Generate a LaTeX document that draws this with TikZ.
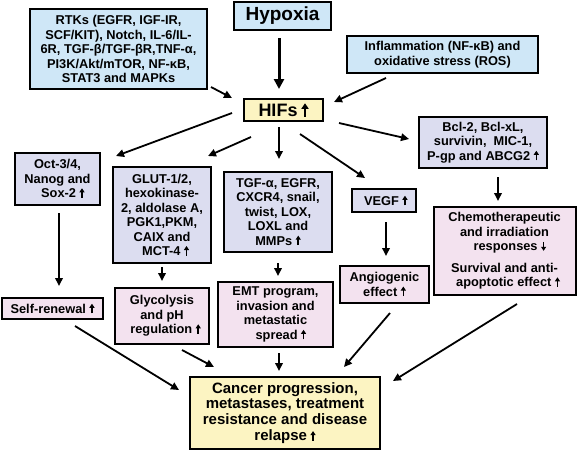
\documentclass[tikz,border=0pt]{standalone}
\usepackage{fontspec}
\setmainfont{Liberation Sans}
\usetikzlibrary{arrows.meta,calc}
\definecolor{cblue}{HTML}{CFE7F7}
\definecolor{clav}{HTML}{DCDDF0}
\definecolor{cpink}{HTML}{F3E2EF}
\definecolor{cyel}{HTML}{FCF4C2}
\newcommand{\upar}{\hspace{3.5pt}\tikz[baseline=0pt]{\draw[line width=1.5pt,-{Triangle[length=4pt,width=5pt]}] (0pt,0pt) -- (0pt,9.5pt);}}
\newcommand{\dnar}{\hspace{3.5pt}\tikz[baseline=0pt]{\draw[line width=1.5pt,-{Triangle[length=4pt,width=5pt]}] (0pt,9pt) -- (0pt,0pt);}}
\newcommand{\bigupar}{\hspace{4pt}\tikz[baseline=0pt]{\draw[line width=2.2pt,-{Triangle[length=5.5pt,width=7pt]}] (0pt,0pt) -- (0pt,13.5pt);}}
\begin{document}
\begin{tikzpicture}[x=1pt,y=-1pt,
  box/.style={draw=black,line width=2pt,align=center,inner sep=0pt,
    font=\bfseries\fontsize{12.8}{14.5}\selectfont},
  arr/.style={-{Triangle[length=8pt,width=7.5pt]},line width=1.8pt},
  bigarr/.style={-{Triangle[length=10pt,width=10pt]},line width=3pt},
]
\useasboundingbox (0,0) rectangle (577,451);
\fill[white] (0,0) rectangle (577,451);

% top row
\node[box,fill=cblue,minimum width=97pt,minimum height=28.5pt,
  font=\bfseries\fontsize{19}{20}\selectfont] (hyp) at (282.5,15.75) {Hypoxia};
\node[box,fill=cblue,minimum width=177pt,minimum height=80pt] (rtk) at (118.5,49)
  {RTKs (EGFR, IGF-IR,\\SCF/KIT), Notch, IL-6/IL-\\6R, TGF-β/TGF-βR,TNF-α,\\PI3K/Akt/mTOR, NF-κB,\\STAT3 and MAPKs};
\node[box,fill=cblue,minimum width=191pt,minimum height=37pt] (inf) at (442.5,54.5)
  {Inflammation (NF-κB) and\\oxidative stress (ROS)};

% HIFs
\node[box,fill=cyel,minimum width=79pt,minimum height=22pt,
  font=\bfseries\fontsize{18}{20}\selectfont] (hif) at (283.5,110) {HIFs\bigupar};

% second row
\node[box,fill=clav,minimum width=128pt,minimum height=51pt] (bcl) at (483,142.5)
  {Bcl-2, Bcl-xL,\\survivin,\ \ MIC-1,\\P-gp and ABCG2\upar};
\node[box,fill=clav,minimum width=85pt,minimum height=52pt] (oct) at (57.5,179)
  {Oct-3/4,\\Nanog and\\\ \ \ Sox-2\upar};
\node[box,fill=clav,minimum width=98pt,minimum height=96pt] (glut) at (162,215)
  {GLUT-1/2,\\hexokinase-\\2, aldolase A,\\PGK1,PKM,\\CAIX and\\\ \ MCT-4\upar};
\node[box,fill=clav,minimum width=108pt,minimum height=80pt] (tgf) at (278,212)
  {TGF-α, EGFR,\\CXCR4, snail,\\twist, LOX,\\LOXL and\\MMPs\upar};
\node[box,fill=clav,minimum width=64pt,minimum height=23pt] (vegf) at (384,200.5)
  {\ VEGF\upar};

% effect row
\node[box,fill=cpink,minimum width=142pt,minimum height=88pt] (chemo) at (504.5,251)
  {Chemotherapeutic\\and irradiation\\\ \ \ responses\dnar\\[7pt]Survival and anti-\\\ \ apoptotic effect\upar};
\node[box,fill=cpink,minimum width=101pt,minimum height=21pt] (self) at (52.5,308.5)
  {Self-renewal\upar};
\node[box,fill=cpink,minimum width=94pt,minimum height=56pt] (glyc) at (162,316)
  {Glycolysis\\and pH\\\ \ regulation\upar};
\node[box,fill=cpink,minimum width=115pt,minimum height=65pt] (emt) at (275.5,314.5)
  {EMT program,\\invasion and\\metastatic\\\ \ \ spread\upar};
\node[box,fill=cpink,minimum width=89pt,minimum height=37pt] (ang) at (384.5,284.5)
  {Angiogenic\\effect\upar};

% outcome
\node[box,fill=cyel,minimum width=190pt,minimum height=72pt,
  font=\bfseries\fontsize{15}{15.8}\selectfont] (can) at (285,413)
  {Cancer progression,\\metastases, treatment\\resistance and disease\\relapse\upar};

% arrows
\draw[bigarr] ($(hyp.south)+(-3.5,7)$) -- ($(hif.north)+(-4.5,-9)$);
\draw[arr] ($(rtk.south east)+(3,-3)$) -- ($(hif.north west)+(-11,0)$);
\draw[arr] ($(inf.south)+(-56.5,4)$) -- ($(hif.north east)+(10,4)$);
\draw[arr] ($(hif.south east)+(15,1)$) -- ($(bcl.west)+(-9,-3.5)$);
\draw[arr] ($(hif.south)+(16.5,12)$) -- ($(vegf.north)+(-19,-10)$);
\draw[arr] ($(hif.south)+(-4.5,5)$) -- ($(tgf.north)+(1,-12)$);
\draw[arr] ($(hif.west)+(-11,3)$) -- ($(oct.north east)+(15,4)$);
\draw[arr] ($(hif.south west)+(8,15)$) -- ($(glut.north east)+(-4,-10)$);
\draw[arr] ($(oct.south)+(1.5,7)$) -- ($(self.north)+(6.5,-11)$);
\draw[arr] ($(glut.south)+(0,3)$) -- ($(glyc.north)+(0,-6)$);
\draw[arr] ($(tgf.south)+(0,10)$) -- ($(emt.north)+(2.5,-5)$);
\draw[arr] ($(vegf.south)+(2,9)$) -- ($(ang.north)+(1.5,-9)$);
\draw[arr] ($(bcl.south)+(15,8)$) -- ($(chemo.north)+(-6.5,-5)$);
\draw[arr] ($(self.south)+(22.5,6)$) -- ($(can.west)+(-10,-23)$);
\draw[arr] ($(glyc.south)+(20,5)$) -- ($(can.north west)+(25,-9)$);
\draw[arr] ($(emt.south)+(3.5,5)$) -- ($(can.north)+(-6,-5)$);
\draw[arr] ($(ang.south)+(5.5,9)$) -- ($(can.north east)+(-37,-9)$);
\draw[arr] ($(chemo.south)+(12.5,8)$) -- ($(can.north east)+(12,5)$);
\end{tikzpicture}
\end{document}
